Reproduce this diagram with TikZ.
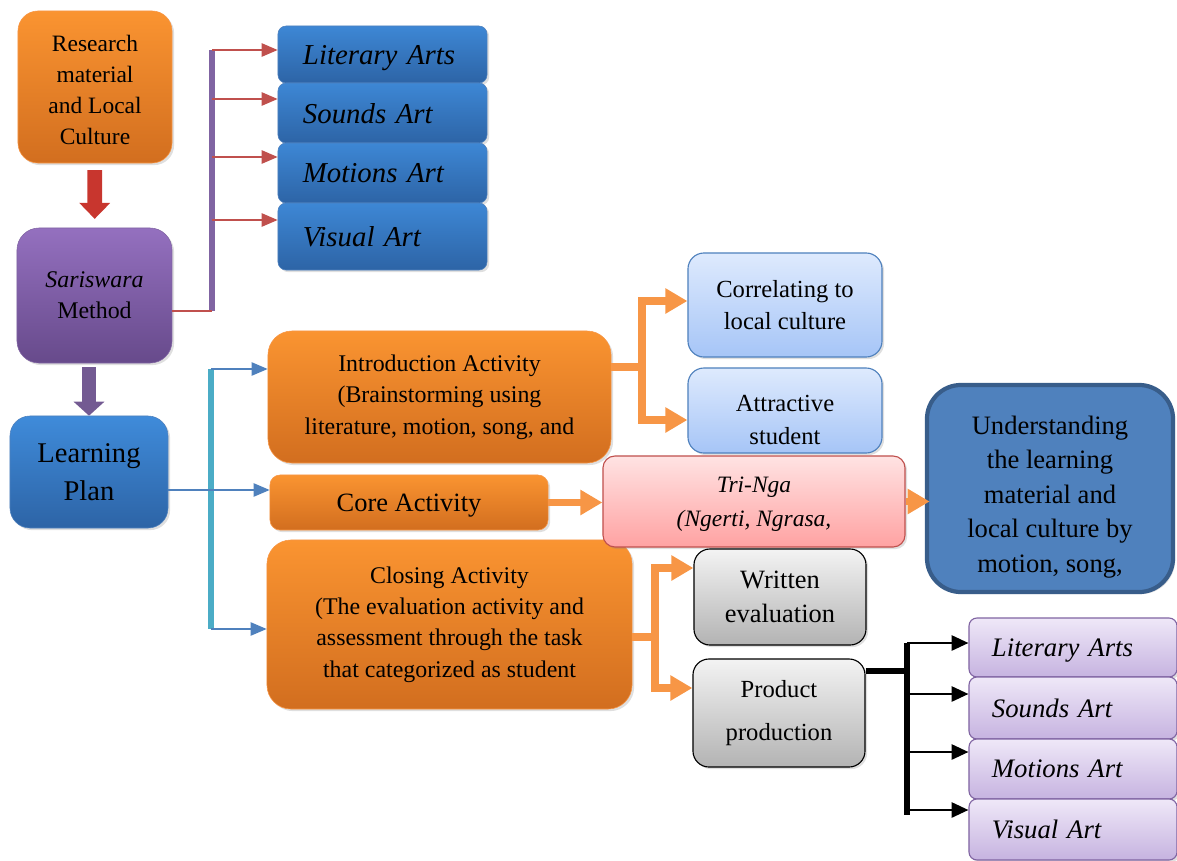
\documentclass[tikz,border=0pt]{standalone}
\usepackage{fontspec}
\setmainfont{Liberation Serif}
\usetikzlibrary{arrows.meta,shadows}

\definecolor{orTop}{HTML}{FA9431}
\definecolor{orBot}{HTML}{D26E1F}
\definecolor{orLine}{HTML}{F79646}
\definecolor{puTop}{HTML}{9470BF}
\definecolor{puBot}{HTML}{674A8B}
\definecolor{puLine}{HTML}{8064A2}
\definecolor{blTop}{HTML}{3F8BDA}
\definecolor{blBot}{HTML}{2D64A6}
\definecolor{blLine}{HTML}{4F81BD}
\definecolor{skTop}{HTML}{DEEAFD}
\definecolor{skBot}{HTML}{A6C5F7}
\definecolor{pkTop}{HTML}{FFE3E3}
\definecolor{pkBot}{HTML}{FFA2A2}
\definecolor{pkLine}{HTML}{C0504D}
\definecolor{gyTop}{HTML}{F3F3F3}
\definecolor{gyBot}{HTML}{B3B3B3}
\definecolor{lvTop}{HTML}{EFE8F8}
\definecolor{lvBot}{HTML}{C6B3E0}
\definecolor{dkBlue}{HTML}{385D8A}
\definecolor{teal}{HTML}{4BACC6}
\definecolor{arRed}{HTML}{C8362E}

\tikzstyle{box}     = [rectangle, align=center, inner sep=2pt,
                       drop shadow={opacity=0.25,shadow xshift=1.5pt,shadow yshift=-1.5pt}]
\tikzstyle{srcbox}  = [box, draw=orLine, top color=orTop, bottom color=orBot, rounded corners=5mm,
                       font=\fontsize{16.7}{22}\selectfont]
\tikzstyle{methbox} = [box, draw=puLine, top color=puTop, bottom color=puBot, rounded corners=5.5mm,
                       font=\fontsize{17}{22}\selectfont]
\tikzstyle{planbox} = [box, draw=blLine, top color=blTop, bottom color=blBot, rounded corners=5mm,
                       font=\fontsize{20.3}{27}\selectfont]
\tikzstyle{artbox}  = [box, draw=blLine, top color=blTop!90!blBot, bottom color=blBot, rounded corners=2mm,
                       minimum width=5.225cm, text width=3.975cm, inner xsep=0.625cm, align=left,
                       text depth=0pt, font=\fontsize{20.5}{24}\selectfont\itshape]
\tikzstyle{actbox}  = [box, draw=orLine, top color=orTop, bottom color=orBot, rounded corners=6mm,
                       font=\fontsize{17}{22.3}\selectfont]
\tikzstyle{aimbox}  = [box, draw=blLine, thick, top color=skTop, bottom color=skBot, rounded corners=4mm,
                       minimum width=4.85cm, font=\fontsize{17.5}{23}\selectfont]
\tikzstyle{tribox}  = [box, draw=pkLine, thick, top color=pkTop, bottom color=pkBot, rounded corners=3mm,
                       font=\fontsize{16.7}{23.5}\selectfont\itshape]
\tikzstyle{resbox}  = [box, draw=dkBlue, line width=3pt, fill=blLine, rounded corners=8.5mm,
                       font=\fontsize{18.9}{24.5}\selectfont]
\tikzstyle{evalbox} = [box, draw=black, thick, top color=gyTop, bottom color=gyBot, rounded corners=4mm,
                       minimum width=4.3cm]
\tikzstyle{lavbox}  = [box, draw=puLine, thick, top color=lvTop, bottom color=lvBot, rounded corners=2mm,
                       minimum width=5.2cm, text width=4.05cm, inner xsep=0.575cm, align=left,
                       text depth=0pt, font=\fontsize{19}{22}\selectfont\itshape]

\tikzstyle{bigred}  = [-{Triangle[width=0.75cm,length=0.4cm]}, line width=0.37cm, draw=arRed, fill=arRed,
                       shorten <=0.17cm, shorten >=0.22cm]
\tikzstyle{bigpur}  = [-{Triangle[width=0.75cm,length=0.35cm]}, line width=0.36cm, draw=puLine!90!black,
                       shorten <=0.1cm]
\tikzstyle{redarr}  = [-{Triangle[width=0.33cm,length=0.4cm]}, line width=1.4pt, draw=pkLine]
\tikzstyle{bluarr}  = [-{Triangle[width=0.33cm,length=0.4cm]}, line width=1.2pt, draw=blLine]
\tikzstyle{orline}  = [line width=0.19cm, draw=orLine]
\tikzstyle{orarr}   = [orline, -{Triangle[width=0.6cm,length=0.55cm]}]
\tikzstyle{blkarr}  = [-{Triangle[width=0.38cm,length=0.42cm]}, line width=1.5pt, draw=black]
\tikzstyle{bar}     = [line width=0.17cm]

\begin{document}
\begin{tikzpicture}[x=0.025cm,y=-0.025cm]
  \useasboundingbox (0,0) rectangle (1177,861);

  \node at (95,87) (research) [srcbox, minimum width=3.85cm, inner ysep=0pt,
        text height=3.325cm, text depth=0.475cm]
        {Research\\material\\and Local\\Culture};
  \node at (94.5,295.5) (sariswara) [methbox, minimum width=3.875cm, minimum height=3.375cm]
        {\textit{Sariswara}\\Method};
  \node at (89,472) (plan) [planbox, minimum width=3.95cm, minimum height=2.8cm] {Learning\\Plan};

  \node at (382.5,54.5)  (art1) [artbox, minimum height=1.425cm] {Literary Arts};
  \node at (382.5,113)   (art2) [artbox, minimum height=1.5cm]   {Sounds Art};
  \node at (382.5,173)   (art3) [artbox, minimum height=1.5cm]   {Motions Art};
  \node at (382.5,236.5) (art4) [artbox, minimum height=1.675cm] {Visual Art};

  \node at (439.5,397) (intro) [actbox, minimum width=8.575cm, minimum height=3.3cm]
        {Introduction Activity\\(Brainstorming using\\literature, motion, song, and};
  \node at (409,502.5) (core) [actbox, rounded corners=2.5mm, minimum width=6.95cm, minimum height=1.375cm,
        text depth=0pt, font=\fontsize{18.8}{23}\selectfont] {Core Activity};
  \node at (449.5,624.5) (closing) [actbox, minimum width=9.125cm, minimum height=4.225cm]
        {Closing Activity\\(The evaluation activity and\\assessment through the task\\that categorized as student};

  \node at (785,305)   (correl)  [aimbox, minimum height=2.6cm] {Correlating to\\local culture};
  \node at (785,410.5) (attract) [aimbox, inner ysep=0pt, text height=1.9cm, text depth=0.225cm]
        {Attractive\\student};
  \node at (754,501.5) (tringa)  [tribox, minimum width=7.55cm, inner ysep=0pt,
        text height=1.75cm, text depth=0.525cm]
        {Tri-Nga\\(Ngerti, Ngrasa,};
  \node at (1050,488.5) (underst) [resbox, minimum width=6.15cm, inner ysep=0pt,
        text height=4.675cm, text depth=0.5cm]
        {Understanding\\the learning\\material and\\local culture by\\motion, song,};

  \node at (780,597) (written) [evalbox, minimum height=2.4cm, font=\fontsize{18.8}{24}\selectfont]
        {Written\\evaluation};
  \node at (779,713) (product) [evalbox, minimum height=2.7cm, font=\fontsize{17.5}{24}\selectfont]
        {Product\\[6pt]production};

  \node at (1073,647.5) (lav1) [lavbox, minimum height=1.475cm] {Literary Arts};
  \node at (1073,708)   (lav2) [lavbox, minimum height=1.55cm]  {Sounds Art};
  \node at (1073,769)   (lav3) [lavbox, minimum height=1.5cm]   {Motions Art};
  \node at (1073,829.5) (lav4) [lavbox, minimum height=1.525cm] {Visual Art};

  % left column arrows
  \draw[bigred] (research) -- (sariswara);
  \draw[bigpur] (plan.north |- sariswara.south) -- (plan.north);

  % method branches
  \coordinate (ptop) at (212,50);
  \coordinate (pbot) at (212,311);
  \draw[bar, draw=puLine] (ptop) -- (pbot);
  \draw[line width=1.4pt, draw=pkLine] (sariswara.east |- pbot) -- (pbot);
  \foreach \i/\y in {1/50,2/99,3/157,4/220} {
    \coordinate (pb\i) at (212,\y);
    \draw[redarr] (pb\i) -- (art\i.west |- pb\i);
  }

  % plan branches
  \coordinate (tb1) at (211,369);
  \coordinate (tb2) at (211,629);
  \coordinate (cjoin) at (211,490);
  \draw[bar, line width=0.15cm, draw=teal] (tb1) -- (tb2);
  \draw[bluarr] (tb1) -- (intro.west |- tb1);
  \draw[bluarr] (plan.east |- cjoin) -- (core.west |- cjoin);
  \draw[bluarr] (tb2) -- (closing.west |- tb2);

  % activity branches
  \coordinate (ijoin) at (642,367);
  \coordinate (ib1) at (642,301);
  \coordinate (ib2) at (642,420);
  \draw[orline] (intro.east |- ijoin) -- (ijoin);
  \draw[orarr] (ijoin) |- (correl.west |- ib1);
  \draw[orarr] (ijoin) |- (attract.west |- ib2);
  \draw[orarr] (core.east) -- (tringa.west |- core.east);
  \draw[orarr] (tringa.east) -- ([xshift=0.12cm]underst.west |- tringa.east);

  \coordinate (kjoin) at (655,637);
  \coordinate (cb1) at (655,568);
  \coordinate (cb2) at (655,688);
  \draw[orline] (closing.east |- kjoin) -- (kjoin);
  \draw[orarr] (kjoin) |- (written.west |- cb1);
  \draw[orarr] (kjoin) |- (product.west |- cb2);

  % product branches
  \coordinate (kb) at (907,671);
  \coordinate (kbtop) at (907,643);
  \coordinate (kbbot) at (907,815);
  \draw[bar, line width=0.13cm] (kbtop) -- (kbbot);
  \draw[line width=0.13cm] (product.east |- kb) -- (kb);
  \foreach \i/\y in {1/643,2/694,3/752,4/810} {
    \coordinate (kb\i) at (907,\y);
    \draw[blkarr] (kb\i) -- (lav\i.west |- kb\i);
  }
\end{tikzpicture}
\end{document}
